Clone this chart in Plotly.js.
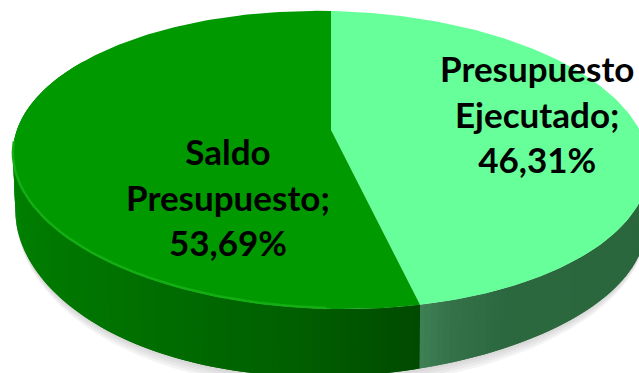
<!DOCTYPE html>
<html><head><meta charset="utf-8">
<script src="https://cdn.plot.ly/plotly-3.0.1.min.js"></script>
<style>html,body{margin:0;padding:0;background:#fff;overflow:hidden}#c{width:639px;height:373px}</style>
</head><body><div id="c"></div>
<script>
const categories = ['Presupuesto Ejecutado', 'Saldo Presupuesto'];
const labelLines = [['Presupuesto', 'Ejecutado;'], ['Saldo', 'Presupuesto;']];
const shares = [46.31, 53.69];
const topColors = ['#66FF99', '#009900'];
const rimColors = ['#66FF99', '#14AD14'];
const wallStops = [
  [[100,'#2A663C'],[152,'#2C683E'],[161,'#337049'],[166.7,'#3F8055']],
  [[166.7,'#004A00'],[185,'#005F00'],[215,'#007200'],[250,'#008000'],[280,'#0C900C'],[310,'#109A10']]
];
const labelAnchors = [[537, 113], [228, 196]];

// perspective projection of the pie's unit disc into pixels
const C = 0.2013, R = 311.6, CX = 331, H = 54;
function proj(deg, down) {
  const t = deg * Math.PI / 180, u = Math.sin(t), v = Math.cos(t), d = 1 + C * v;
  const s = down ? 0.992 : 1;
  const x = CX + s * R * u / d;
  let y = (130 - 116.8 * v) / d + 0.02 * (x - CX);
  if (down) y += H / d - 0.04 * (x - CX) * v * v;
  return [x, y];
}
function hex(c){return [1,3,5].map(i=>parseInt(c.substr(i,2),16));}
function wallColor(stops, a){
  if (a <= stops[0][0]) return stops[0][1];
  for (let i=1;i<stops.length;i++) if (a <= stops[i][0]) {
    const f=(a-stops[i-1][0])/(stops[i][0]-stops[i-1][0]), p=hex(stops[i-1][1]), q=hex(stops[i][1]);
    return 'rgb('+p.map((w,k)=>Math.round(w+(q[k]-w)*f)).join(',')+')';
  }
  return stops[stops.length-1][1];
}
const total = shares.reduce((a,b)=>a+b,0);
const bounds = [0, shares[0]/total*360, 360];
const traces = [];
function poly(x,y,color,lw){traces.push({type:'scatter',mode:'lines',x,y,fill:'toself',fillcolor:color,
  line:{color:color,width:lw||0},hoverinfo:'skip',showlegend:false});}
function line(x,y,color,w){traces.push({type:'scatter',mode:'lines',x,y,line:{color,width:w},hoverinfo:'skip',showlegend:false});}

// soft shadow under the pie
for (const off of [12,9,6,3]) {
  const xs=[],ys=[];
  for (let a=70;a<=295;a+=3){const p=proj(a,true);xs.push(p[0]);ys.push(p[1]+off*Math.max(.25,-Math.cos(a*Math.PI/180)));}
  poly(xs,ys,'rgba(150,145,150,0.10)');
}
// side wall, drawn as narrow strips, each overlapping the next so no seam shows
const STEP = 1;
function wall(i, a0, a1, dir){
  const n=Math.round((a1-a0)/STEP);
  for (let k=0;k<n;k++){
    const j = dir>0 ? k : n-1-k;
    const a=a0+j*STEP, b=Math.min(a+STEP,a1);
    const ea = dir>0 ? a : Math.max(a0,a), eb = dir>0 ? Math.min(b+STEP,a1) : b;
    const sa = dir>0 ? ea : Math.max(a0,a-STEP);
    const p0=proj(sa,false),p1=proj(eb,false),q1=proj(eb,true),q0=proj(sa,true);
    poly([p0[0],p1[0],q1[0],q0[0],p0[0]],[p0[1],p1[1],q1[1],q0[1],p0[1]],wallColor(wallStops[i],(a+b)/2));
  }
}
wall(0, 95, bounds[1], 1);
wall(1, bounds[1], 300, -1);
// top faces
shares.forEach((s,i)=>{
  const xs=[CX],ys=[130];
  for (let a=bounds[i];a<=bounds[i+1]+1e-6;a+=1){const p=proj(a,false);xs.push(p[0]);ys.push(p[1]);}
  const e=proj(bounds[i+1],false);xs.push(e[0],CX);ys.push(e[1],130);
  poly(xs,ys,topColors[i]);
});
// bevel along the dark slice's rim
{
  const xs=[],ys=[];
  for (let a=bounds[1]+14;a<=264;a+=2){const p=proj(a,false);xs.push(p[0]);ys.push(p[1]-1);}
  line(xs,ys,rimColors[1],2.5);
}
const annotations = labelLines.map((ls,i)=>({
  x:labelAnchors[i][0], y:labelAnchors[i][1], xref:'x', yref:'y', showarrow:false,
  xanchor:'center', yanchor:'middle', align:'center',
  text:'<b>'+ls.concat([shares[i].toFixed(2).replace('.',',')+'%']).join('<br>')+'</b>',
  font:{family:'Lato, Carlito, sans-serif',size:35,color:'#000'}
}));
Plotly.newPlot('c',traces,{
  width:639,height:373,margin:{l:0,r:0,t:0,b:0},paper_bgcolor:'#fff',plot_bgcolor:'#fff',showlegend:false,
  xaxis:{range:[0,639],visible:false,fixedrange:true},
  yaxis:{range:[373,0],visible:false,fixedrange:true},
  annotations
},{staticPlot:true,displayModeBar:false});
</script></body></html>
